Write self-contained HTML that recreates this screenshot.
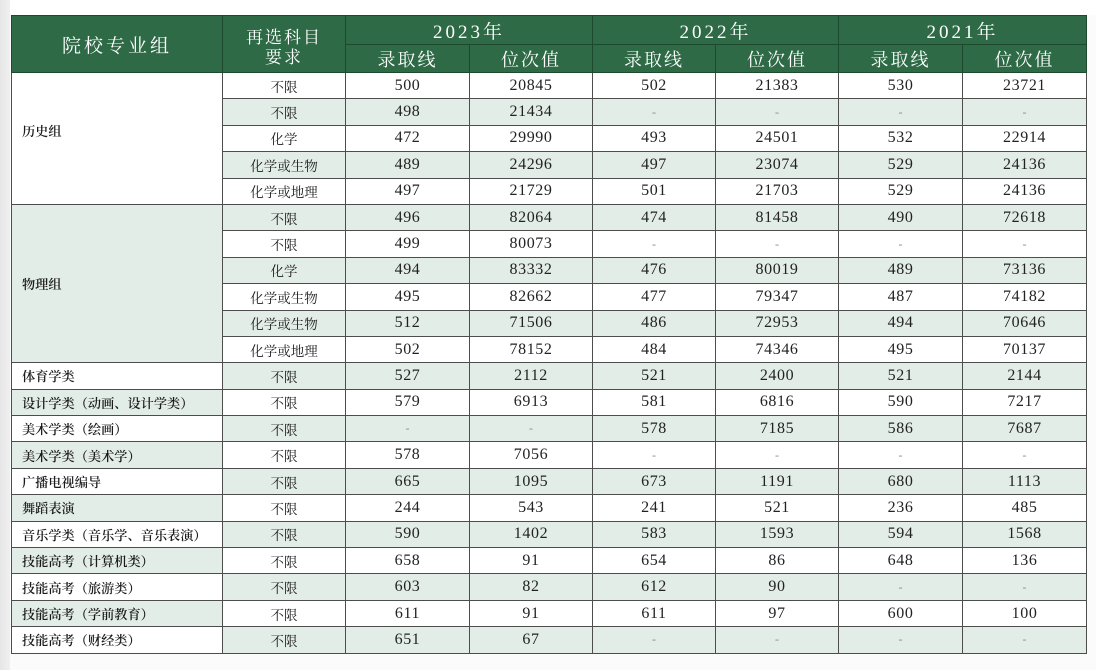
<!DOCTYPE html>
<html><head><meta charset="utf-8">
<style>
html,body{margin:0;padding:0;}
body{width:1096px;height:670px;background:#fbfbfb;position:relative;overflow:hidden;font-family:"Liberation Serif","Noto Serif CJK SC",serif;}
.strip{position:absolute;left:0;top:0;width:10px;height:670px;background:linear-gradient(to right,#e6e6e6,#f0f0f0);}
.topw{position:absolute;left:10px;top:0;width:1086px;height:15px;background:#fff;}
table{position:absolute;left:11px;top:15px;width:1075px;border-collapse:collapse;table-layout:fixed;background:#fff;}
td,th{border:1px solid #4d4d4d;padding:0;text-align:center;vertical-align:middle;overflow:hidden;white-space:nowrap;}
th{background:#2e6a46;color:#fff;font-weight:normal;border-color:#1d4a2e;font-family:"Liberation Serif","Noto Serif CJK SC",serif;}
tr.h1 th{height:28px;}
tr.h2 th{height:27px;}
tr.d td{height:25.4px;}
.yr{font-size:19px;letter-spacing:3px;}
.sub{font-size:18px;letter-spacing:2px;}
.g{font-size:19px;letter-spacing:3px;}
th.rq{font-size:17px;letter-spacing:2px;line-height:20px;padding-top:7px;box-sizing:border-box;}
td.n{font-size:16px;letter-spacing:0.6px;color:#222;}
td.r{font-size:13.5px;color:#1a1a1a;font-family:"Noto Serif CJK SC",serif;}
td.f{font-size:13.2px;color:#1a1a1a;text-align:left;padding-left:10px;font-family:"Noto Serif CJK SC",serif;font-weight:600;}
td.dash{font-size:12px;color:#888;}
.s{background:#e3ede7;}
</style></head><body>
<div class="strip"></div>
<div class="topw"></div>
<table>
<colgroup><col style="width:211px"><col style="width:123px"><col style="width:124px"><col style="width:123px"><col style="width:123px"><col style="width:123px"><col style="width:124px"><col style="width:124px"></colgroup>
<tr class="h1"><th rowspan="2" class="g">院校专业组</th><th rowspan="2" class="rq">再选科目<br>要求</th><th colspan="2" class="yr">2023年</th><th colspan="2" class="yr">2022年</th><th colspan="2" class="yr">2021年</th></tr>
<tr class="h2"><th class="sub">录取线</th><th class="sub">位次值</th><th class="sub">录取线</th><th class="sub">位次值</th><th class="sub">录取线</th><th class="sub">位次值</th></tr>

<tr class="d"><td class="f" rowspan="5" style="vertical-align:middle;padding-bottom:16px">历史组</td><td class="r">不限</td><td class="n">500</td><td class="n">20845</td><td class="n">502</td><td class="n">21383</td><td class="n">530</td><td class="n">23721</td></tr>
<tr class="d s"><td class="r">不限</td><td class="n">498</td><td class="n">21434</td><td class="dash">-</td><td class="dash">-</td><td class="dash">-</td><td class="dash">-</td></tr>
<tr class="d"><td class="r">化学</td><td class="n">472</td><td class="n">29990</td><td class="n">493</td><td class="n">24501</td><td class="n">532</td><td class="n">22914</td></tr>
<tr class="d s"><td class="r">化学或生物</td><td class="n">489</td><td class="n">24296</td><td class="n">497</td><td class="n">23074</td><td class="n">529</td><td class="n">24136</td></tr>
<tr class="d"><td class="r">化学或地理</td><td class="n">497</td><td class="n">21729</td><td class="n">501</td><td class="n">21703</td><td class="n">529</td><td class="n">24136</td></tr>

<tr class="d s"><td class="f s" rowspan="6">物理组</td><td class="r">不限</td><td class="n">496</td><td class="n">82064</td><td class="n">474</td><td class="n">81458</td><td class="n">490</td><td class="n">72618</td></tr>
<tr class="d"><td class="r">不限</td><td class="n">499</td><td class="n">80073</td><td class="dash">-</td><td class="dash">-</td><td class="dash">-</td><td class="dash">-</td></tr>
<tr class="d s"><td class="r">化学</td><td class="n">494</td><td class="n">83332</td><td class="n">476</td><td class="n">80019</td><td class="n">489</td><td class="n">73136</td></tr>
<tr class="d"><td class="r">化学或生物</td><td class="n">495</td><td class="n">82662</td><td class="n">477</td><td class="n">79347</td><td class="n">487</td><td class="n">74182</td></tr>
<tr class="d s"><td class="r">化学或生物</td><td class="n">512</td><td class="n">71506</td><td class="n">486</td><td class="n">72953</td><td class="n">494</td><td class="n">70646</td></tr>
<tr class="d"><td class="r">化学或地理</td><td class="n">502</td><td class="n">78152</td><td class="n">484</td><td class="n">74346</td><td class="n">495</td><td class="n">70137</td></tr>

<tr class="d s"><td class="f" style="background:#fff">体育学类</td><td class="r">不限</td><td class="n">527</td><td class="n">2112</td><td class="n">521</td><td class="n">2400</td><td class="n">521</td><td class="n">2144</td></tr>
<tr class="d"><td class="f s">设计学类（动画、设计学类）</td><td class="r">不限</td><td class="n">579</td><td class="n">6913</td><td class="n">581</td><td class="n">6816</td><td class="n">590</td><td class="n">7217</td></tr>
<tr class="d s"><td class="f" style="background:#fff">美术学类（绘画）</td><td class="r">不限</td><td class="dash">-</td><td class="dash">-</td><td class="n">578</td><td class="n">7185</td><td class="n">586</td><td class="n">7687</td></tr>
<tr class="d"><td class="f s">美术学类（美术学）</td><td class="r">不限</td><td class="n">578</td><td class="n">7056</td><td class="dash">-</td><td class="dash">-</td><td class="dash">-</td><td class="dash">-</td></tr>
<tr class="d s"><td class="f" style="background:#fff">广播电视编导</td><td class="r">不限</td><td class="n">665</td><td class="n">1095</td><td class="n">673</td><td class="n">1191</td><td class="n">680</td><td class="n">1113</td></tr>
<tr class="d"><td class="f s">舞蹈表演</td><td class="r">不限</td><td class="n">244</td><td class="n">543</td><td class="n">241</td><td class="n">521</td><td class="n">236</td><td class="n">485</td></tr>
<tr class="d s"><td class="f" style="background:#fff">音乐学类（音乐学、音乐表演）</td><td class="r">不限</td><td class="n">590</td><td class="n">1402</td><td class="n">583</td><td class="n">1593</td><td class="n">594</td><td class="n">1568</td></tr>
<tr class="d"><td class="f s">技能高考（计算机类）</td><td class="r">不限</td><td class="n">658</td><td class="n">91</td><td class="n">654</td><td class="n">86</td><td class="n">648</td><td class="n">136</td></tr>
<tr class="d s"><td class="f" style="background:#fff">技能高考（旅游类）</td><td class="r">不限</td><td class="n">603</td><td class="n">82</td><td class="n">612</td><td class="n">90</td><td class="dash">-</td><td class="dash">-</td></tr>
<tr class="d"><td class="f s">技能高考（学前教育）</td><td class="r">不限</td><td class="n">611</td><td class="n">91</td><td class="n">611</td><td class="n">97</td><td class="n">600</td><td class="n">100</td></tr>
<tr class="d s"><td class="f" style="background:#fff">技能高考（财经类）</td><td class="r">不限</td><td class="n">651</td><td class="n">67</td><td class="dash">-</td><td class="dash">-</td><td class="dash">-</td><td class="dash">-</td></tr>
</table>
</body></html>
